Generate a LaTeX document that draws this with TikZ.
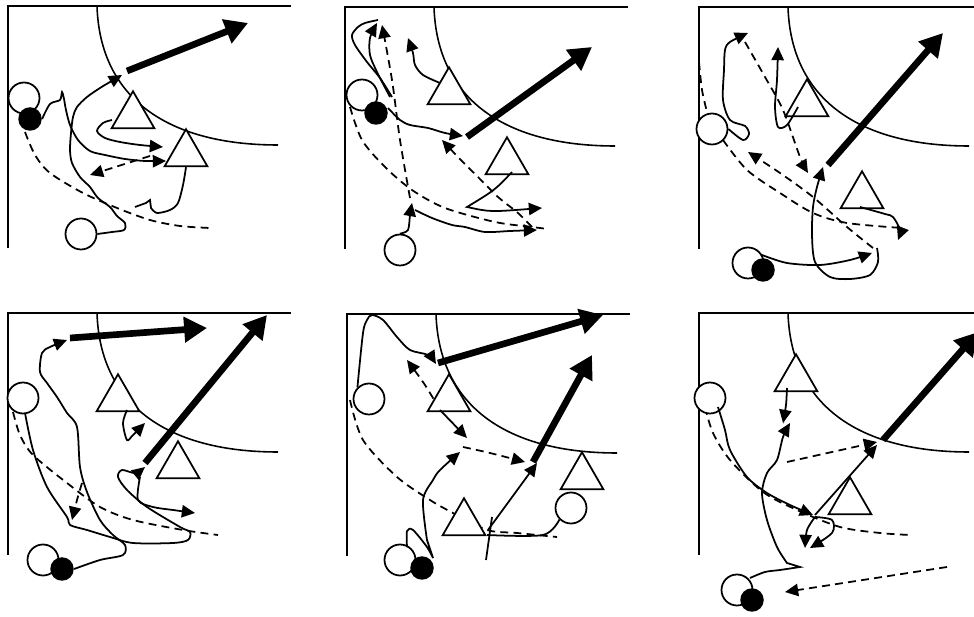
\documentclass[tikz,border=0pt]{standalone}
\usepackage{tikz}
\usetikzlibrary{arrows.meta,shapes.geometric}
\tikzset{
  att/.style={circle,draw,line width=1pt,fill=white,minimum size=0.62cm,inner sep=0},
  hold/.style={circle,fill=black,minimum size=0.47cm,inner sep=0},
  guard/.style={regular polygon,regular polygon sides=3,draw,line width=1pt,fill=white,minimum size=0.99cm,inner sep=0},
  run/.style={line width=1pt,-{Triangle[length=7.5pt,width=7pt]}},
  pass/.style={line width=1pt,dash pattern=on 4.5pt off 3pt},
  shot/.style={line width=3.8pt,-{Triangle[length=13pt,width=14pt]}},
}
\newcommand{\court}[1]{\draw[line width=1pt] (#1,0) -- (0,0) -- (0,242);
  \draw[line width=0.9pt] (89,0) .. controls (92,94) and (162,139) .. (270,139);}

\begin{document}
\begin{tikzpicture}[x=0.02cm,y=-0.02cm]
\useasboundingbox (0,0) rectangle (974,617);

% top left
\begin{scope}[shift={(8,6)}] \court{283} \end{scope}
\draw[pass] plot[smooth] coordinates {(25,132) (35,155) (50,173) (83,193) (117,208) (150,220) (180,226) (210,228)};
\node[att] (o1a) at (24,98) {};
\node[hold] (b1) at (30,119) {};
\node[att] (o1b) at (81,234) {};
\node[guard] (t1a) at (133,116) {};
\node[guard] (t1b) at (186,154) {};
\draw[shot] (127,71) -- (248,23);
\draw[run] plot[smooth] coordinates {(o1b.east) (112,232) (124,230) (125,223) (117,216) (110,207) (98,198) (90,187) (80,177) (72,163) (70,150) (71,133) (73,117) (77,107) (87,97) (100,88) (110,82) (122,75)};
\draw[run] plot[smooth] coordinates {(b1.east) (50,104) (60,100) (62,92) (64,99) (66,110) (70,125) (78,140) (90,151) (105,155) (125,159) (145,161) (166,161)};
\draw[run] plot[smooth] coordinates {(112,120) (103,123) (97,131) (105,138) (120,142) (140,145) (163,147)};
\draw[line width=1pt] plot[smooth] coordinates {(t1b.south) (183,185) (178,203) (170,210) (157,213) (151,208)} -- (150,200) -- (146,203) -- (135,207);
\draw[pass,-{Triangle[length=7.5pt,width=7pt]}] (150,156) -- (90,175);

% top middle
\begin{scope}[shift={(345,7)}] \court{283} \end{scope}
\draw[pass] plot[smooth] coordinates {(350,107) (362,140) (385,167) (412,190) (445,208) (495,222) (532,227) (548,229)};
\draw[pass,-{Triangle[length=7.5pt,width=7pt]}] plot[smooth] coordinates {(410,198) (400,140) (392,80) (382,25)};
\draw[pass,-{Triangle[length=7.5pt,width=7pt]}] plot[smooth] coordinates {(532,227) (518,213) (498,197) (478,177) (458,157) (442,140)};
\node[att] (o2a) at (362,95) {};
\node[hold] (b2) at (376,113) {};
\node[att] (o2b) at (400,250) {};
\node[guard] (t2a) at (449,92) {};
\node[guard] (t2b) at (507,162) {};
\draw[shot] (467,137) -- (592,47);
\draw[run] plot[smooth] coordinates {(388,108) (400,120) (410,125) (428,128) (445,133) (463,136)};
\draw[line width=1pt] plot[smooth] coordinates {(392,97) (380,78) (367,62) (355,45) (352,35) (358,27) (365,23) (378,20)};
\draw[run] plot[smooth] coordinates {(390,97) (377,72) (370,55) (370,38) (377,23)};
\draw[run] plot[smooth] coordinates {(440,83) (423,75) (415,65) (413,53) (408,38)};
\draw[run] plot[smooth] coordinates {(o2b.north) (408,230) (410,215) (412,203)};
\draw[run] plot[smooth] coordinates {(415,210) (432,218) (452,225) (465,227) (485,232) (510,231) (537,230)};
\draw[run] (512,172) .. controls (495,190) .. (467,207) .. controls (490,212) .. (542,208);

% top right
\begin{scope}[shift={(699,7)}] \court{275} \end{scope}
\draw[pass] plot[smooth] coordinates {(699,62) (702,90) (707,112)};
\draw[pass] plot[smooth] coordinates {(723,140) (747,170) (780,193) (813,213) (847,223) (902,228)};
\draw[pass,-{Triangle[length=7.5pt,width=7pt]}] plot[smooth] coordinates {(745,42) (765,77) (783,110) (800,157) (808,173)};
\draw[pass,-{Triangle[length=7.5pt,width=7pt]}] plot[smooth] coordinates {(873,248) (847,227) (813,197) (780,173) (748,152)};
\node[att] (o3a) at (712,129) {};
\node[att] (o3b) at (748,263) {};
\node[hold] (b3) at (763,270) {};
\node[guard] (t3a) at (807,104) {};
\node[guard] (t3b) at (862,196) {};
\draw[shot] (828,165) -- (943,33);
\draw[run] plot[smooth] coordinates {(762,255) (787,263) (820,265) (850,260) (872,253)};
\draw[run] plot[smooth] coordinates {(877,248) (878,262) (870,275) (850,279) (830,277) (815,262) (812,235) (813,207) (817,187) (823,167)};
\draw[run] plot[smooth] coordinates {(798,107) (787,125) (778,127) (775,107) (777,80) (778,47)};
\draw[run] plot[smooth] coordinates {(o3a.east) (743,140) (749,134) (745,126) (730,120) (723,100) (724,70) (725,50) (730,42) (748,33)};
\draw[run] plot[smooth] coordinates {(860,207) (885,214) (893,217) (900,230) (898,240)};

% bottom left
\begin{scope}[shift={(8,313)}] \court{283} \end{scope}
\draw[pass] plot[smooth] coordinates {(13,412) (20,435) (33,455) (67,483) (100,507) (133,520) (183,530) (218,535)};
\draw[pass,-{Triangle[length=7.5pt,width=7pt]}] plot[smooth] coordinates {(82,483) (77,500) (72,520)};
\node[att] (o4a) at (23,398) {};
\node[att] (o4b) at (43,560) {};
\node[hold] (b4) at (62,569) {};
\node[guard] (t4a) at (118,399) {};
\node[guard] (t4b) at (178,466) {};
\draw[shot] (70,338) -- (207,328);
\draw[shot] (145,463) -- (267,315);
\draw[run] plot[smooth] coordinates {(b4.east) (100,560) (123,555) (125,545) (113,535) (100,520) (87,492) (80,467) (77,427) (67,413) (57,397) (47,383) (40,372) (42,353) (50,347) (67,340)};
\draw[run] plot[smooth] coordinates {(25,413) (33,450) (47,487) (67,517) (70,525) (87,530) (110,537) (133,543) (173,543) (188,540) (190,532) (180,527) (147,507) (127,490) (118,477) (122,470) (135,473) (145,467)};
\draw[run] plot[smooth] coordinates {(140,477) (138,500) (153,507) (173,510) (195,513)};
\draw[run] plot[smooth] coordinates {(127,410) (123,423) (127,440) (133,435) (145,423)};

% bottom middle
\begin{scope}[shift={(347,314)}] \court{283} \end{scope}
\draw[pass] plot[smooth] coordinates {(350,400) (363,440) (397,477) (430,500) (453,513) (487,530) (517,533) (557,537)};
\draw[pass,-{Triangle[length=7.5pt,width=7pt]}] plot[smooth] coordinates {(440,410) (425,385) (407,360)};
\draw[pass,-{Triangle[length=7.5pt,width=7pt]}] plot[smooth] coordinates {(463,447) (490,453) (525,462)};
\node[att] (o5a) at (369,399) {};
\node[att] (o5b) at (400,560) {};
\node[hold] (b5) at (422,568) {};
\node[att] (o5c) at (571,508) {};
\node[guard] (t5a) at (449,399) {};
\node[guard] (t5b) at (582,477) {};
\node[guard] (t5c) at (464,523) {};
\draw[shot] (438,363) -- (603,315);
\draw[shot] (533,462) -- (592,355);
\draw[run] (488,530) -- (537,463);
\draw[line width=1pt] (492,517) -- (486,560);
\draw[line width=1pt] plot[smooth] coordinates {(487,535) (543,535) (o5c.south west)};
\draw[run] (440,410) -- (467,438);
\draw[run] plot[smooth] coordinates {(407,547) (407,531) (413,530) (427,547) (433,558)} -- plot[smooth] coordinates {(427,540) (423,500) (433,480) (440,470) (460,452)};
\draw[run] plot[smooth] coordinates {(o5a.north west) (363,333) (367,320) (372,315) (383,320) (397,337) (410,350) (428,355) (436,364)};

% bottom right
\begin{scope}[shift={(699,313)}] \court{275} \end{scope}
\draw[pass] plot[smooth] coordinates {(705,407) (713,433) (730,460) (763,492) (797,510) (840,527) (880,533) (910,535)};
\draw[pass,-{Triangle[length=7.5pt,width=7pt]}] (787,462) -- (877,442);
\draw[pass,-{Triangle[length=7.5pt,width=7pt]}] (947,567) -- (785,592);
\node[att] (o6a) at (710,398) {};
\node[att] (o6b) at (737,590) {};
\node[hold] (b6) at (752,600) {};
\node[guard] (t6a) at (796,379) {};
\node[guard] (t6b) at (850,502) {};
\draw[shot] (883,440) -- (978,332);
\draw[run] plot[smooth] coordinates {(750,578) (765,572) (780,570) (800,567)} -- plot[smooth] coordinates {(787,563) (777,547) (767,520) (762,493) (767,473) (777,460) (783,437) (790,423)};
\draw[run] plot[smooth] coordinates {(787,388) (786,405) (783,423)};
\draw[run] plot[smooth] coordinates {(718,407) (725,430) (730,450) (747,477) (767,493) (790,505) (813,515)};
\draw[run] (815,515) -- (877,445);
\draw[run] plot[smooth] coordinates {(815,517) (832,520) (832,533) (810,548)};
\draw[run] plot[smooth] coordinates {(815,517) (807,530) (805,548)};
\end{tikzpicture}
\end{document}
